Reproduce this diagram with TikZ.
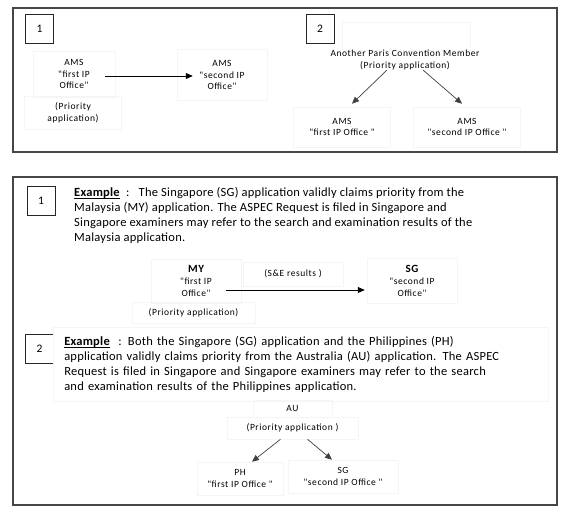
\documentclass[tikz,border=0pt]{standalone}
\usepackage{fontspec}
\setmainfont{Carlito}
\newfontfamily\lblfont[LetterSpace=6]{Carlito}
\newfontfamily\parafont[LetterSpace=2]{Carlito}
\newcommand{\exword}{\underline{\smash{\textbf{Example}}}}
\usetikzlibrary{arrows.meta}
\begin{document}
\begin{tikzpicture}[x=1pt,y=-1pt,
  frame/.style={draw=black!72, line width=1.4pt},
  numbox/.style={draw=black!85, line width=0.9pt, minimum width=28pt, minimum height=29pt, inner sep=0pt, font=\fontsize{11.5}{13}\selectfont},
  lbl/.style={align=center, inner sep=0pt, font=\lblfont\fontsize{9.5}{11.5}\selectfont},
  faint/.style={draw=black!4, line width=0.5pt},
  para/.style={align=left, inner sep=0pt, anchor=north west, font=\parafont\fontsize{12.5}{15}\selectfont},
  arr/.style={-{Triangle[length=7pt,width=6pt]}, line width=0.9pt, black},
  darr/.style={-{Triangle[length=7pt,width=6pt]}, line width=0.7pt, black!75},
]
\useasboundingbox (0,0) rectangle (567,515);
\fill[white] (0,0) rectangle (567,515);

% ---------- top frame ----------
\draw[frame] (13,8) rectangle (557,152);
\node[numbox] (n1) at (39.5,29) {1};
\node[lbl, faint, minimum width=82pt, minimum height=46pt] (a1) at (74,74) {AMS\\"first IP\\Office"};
\node[lbl, faint, minimum width=97pt, minimum height=33pt] (p1) at (73,113) {(Priority\\application)};
\node[lbl, faint, minimum width=90pt, minimum height=51pt] (a2) at (222,75) {AMS\\"second IP\\Office"};
\draw[arr] ([xshift=-10pt,yshift=-2pt]a1.east) -- ([xshift=16pt,yshift=-1pt]a2.west);

\node[numbox] (n2) at (320,29) {2};
\draw[faint] (342,22) rectangle (470,50);
\node[lbl] (apc) at (405,60) {Another Paris Convention Member\\(Priority application)};
\node[lbl, faint, minimum width=97pt, minimum height=40pt] (b1) at (342,127) {AMS\\"first IP Office "};
\node[lbl, faint, minimum width=107pt, minimum height=40pt] (b2) at (467,127) {AMS\\"second IP Office "};
\draw[darr] ([xshift=-18pt]apc.south) -- ([xshift=10pt,yshift=3pt]b1.north);
\draw[darr] ([xshift=18pt]apc.south) -- ([xshift=-5pt,yshift=3pt]b2.north);

% ---------- bottom frame ----------
\draw[frame] (13,177) rectangle (557,505);
\node[numbox] (n3) at (41,201) {1};
\node[para] (para1) at (74,187) {\exword\ \ :\ \ \ The Singapore (SG) application validly claims priority from the\\
Malaysia (MY) application. The ASPEC Request is filed in Singapore and\\
Singapore examiners may refer to the search and examination results of the\\
Malaysia application.};

\node[lbl, faint, minimum width=90pt, minimum height=44pt, font=\lblfont\fontsize{9.5}{12}\selectfont] (my) at (196,281) {{\bfseries\fontsize{11}{12}\selectfont MY}\\"first IP\\Office"};
\node[lbl, faint, minimum width=123pt, minimum height=21pt] (p2) at (193.5,312.5) {(Priority application)};
\node[lbl, faint, minimum width=100pt, minimum height=24pt] (se) at (293,274) {(S\&E results )};
\node[lbl, faint, minimum width=90pt, minimum height=45pt, font=\lblfont\fontsize{9.5}{12}\selectfont] (sg) at (412,281) {{\bfseries\fontsize{11}{12}\selectfont SG}\\"second IP\\Office"};
\draw[arr] ([xshift=-15pt,yshift=-9pt]my.east) -- ([xshift=-2pt,yshift=-9pt]sg.west);

\node[numbox] (n4) at (39.5,348.5) {2};
\node[para, faint, text width=473pt, inner xsep=11pt, inner ysep=9pt] (para2) at (53,327) {\exword\ \ : Both the Singapore (SG) application and the Philippines (PH)\\
application validly claims priority from the Australia (AU) application. The ASPEC\\
Request is filed in Singapore and Singapore examiners may refer to the search\\
and examination results of the Philippines application.};

\node[lbl, faint, minimum width=79pt, minimum height=17pt] (au) at (292.5,408.5) {AU};
\node[lbl, faint, minimum width=131pt, minimum height=22pt] (p3) at (292.5,428) {(Priority application )};
\node[lbl, faint, minimum width=86pt, minimum height=33pt] (ph) at (240,478.5) {PH\\"first IP Office "};
\node[lbl, faint, minimum width=110pt, minimum height=33pt] (sg2) at (343,476.5) {SG\\"second IP Office "};
\draw[darr] ([xshift=-12pt]p3.south) -- ([xshift=12pt]ph.north);
\draw[darr] ([xshift=15pt]p3.south) -- ([xshift=-11pt]sg2.north);
\end{tikzpicture}
\end{document}
